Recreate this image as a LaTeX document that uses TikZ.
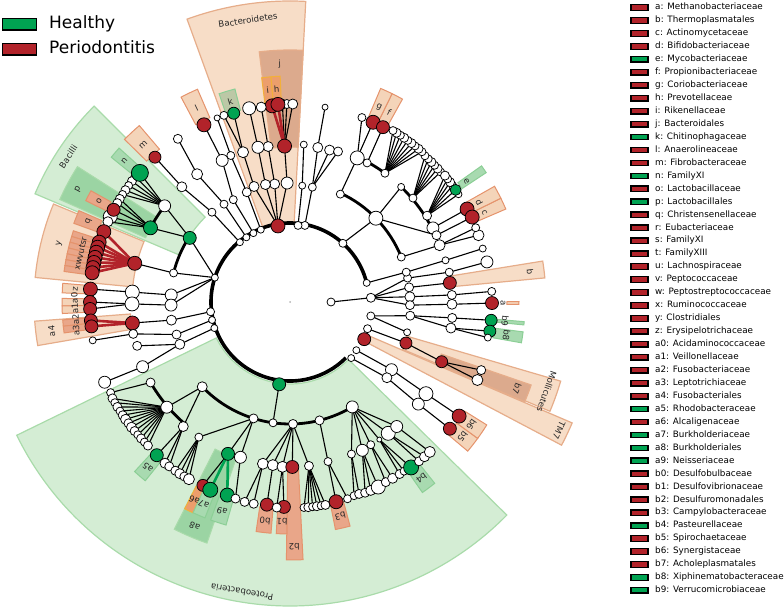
\documentclass[tikz,border=0pt]{standalone}
\usepackage{fontspec}
\setmainfont{DejaVu Sans}
\pgfdeclarelayer{wedges}
\pgfdeclarelayer{edges}
\pgfsetlayers{wedges,edges,main}
\definecolor{rednode}{HTML}{B2232A}
\definecolor{greennode}{HTML}{00A352}
\definecolor{rwF}{HTML}{F7DDC7}
\definecolor{rwD}{HTML}{E6AD8A}
\definecolor{roF}{HTML}{DCAA8D}
\definecolor{rfF}{HTML}{E9A689}
\definecolor{rfD}{HTML}{E5936C}
\definecolor{rlF}{HTML}{F4D4B9}
\definecolor{rhF}{HTML}{EC9E6C}
\definecolor{rhD}{HTML}{F2B03A}
\definecolor{gwF}{HTML}{D4EDD4}
\definecolor{gwD}{HTML}{A9DBAA}
\definecolor{goF}{HTML}{9BD4A3}
\definecolor{gfF}{HTML}{A8DAB0}
\definecolor{gfD}{HTML}{8CCF96}
\definecolor{gkF}{HTML}{BCC8A6}
\tikzset{
 wn/.style={circle,draw=black,line width=0.75pt,fill=white,inner sep=0pt,outer sep=0pt},
 rn/.style={wn,fill=rednode},
 gn/.style={wn,fill=greennode},
 edge/.style={line width=1.1pt,black},
 redg/.style={line width=2.6pt,rednode},
 gedg/.style={line width=2.6pt,greennode},
 tarc/.style={line width=2.8pt,black},
 marc/.style={line width=3.6pt,black},
 rw/.style={fill=rwF,draw=rwD,line width=1.2pt},
 ro/.style={fill=roF,draw=rwD,line width=1.2pt},
 rf/.style={fill=rfF,draw=rfD,line width=1pt},
 rl/.style={fill=rlF,draw=rfD,line width=1pt},
 rh/.style={fill=rhF,draw=rhD,line width=1pt},
 gw/.style={fill=gwF,draw=gwD,line width=1.2pt},
 go/.style={fill=goF,draw=gwD,line width=1pt},
 gf/.style={fill=gfF,draw=gfD,line width=1pt},
 gk/.style={fill=gkF,draw=gfD,line width=1pt},
 lab/.style={inner sep=0pt,font=\fontsize{8.6}{9}\selectfont,text=black!85},
 legbox/.style={draw=black,line width=1.3pt,minimum width=17pt,minimum height=5.5pt,inner sep=0pt},
 legtxt/.style={anchor=west,inner sep=0pt,font=\fontsize{8.8}{10}\selectfont,text height=6.4pt,text depth=1.8pt},
 bigbox/.style={draw=black,line width=1.3pt,minimum width=34pt,minimum height=11.5pt,inner sep=0pt},
 bigtxt/.style={anchor=west,inner sep=0pt,font=\fontsize{17}{20}\selectfont,text height=12.5pt,text depth=3.5pt},
}
\newcommand\cnode[5][wn]{\node[#1,minimum size=#5pt] (#2) at (#3:#4) {};}
\newcommand\cedge[3][edge]{\begin{pgfonlayer}{edges}\draw[#1] (#2.center) -- (#3.center);\end{pgfonlayer}}
\newcommand\carc[4][tarc]{\begin{pgfonlayer}{edges}\draw[#1] (#2:#4) arc[start angle=#2,end angle=#3,radius=#4];\end{pgfonlayer}}
\newcommand\cwedge[5]{\path[#1] (#2:#4) arc[start angle=#2,end angle=#3,radius=#4] -- (#3:#5) arc[start angle=#3,end angle=#2,radius=#5] -- cycle;}
\newcommand\clab[5][]{\node[lab,rotate={#3-90},#1] (#2) at (#3:#4) {#5};}
\newcommand\cfan[4]{\foreach \fang/\fsz [count=\fcnt] in {#4} {\cnode{#2\fcnt}{\fang}{#3}{\fsz}\cedge{#1}{#2\fcnt}}}
\begin{document}
\begin{tikzpicture}[x=1pt,y=-1pt]
\useasboundingbox (0,0) rectangle (784,612);
% ---------- left legend
\node[bigbox,fill=greennode] (hbox) at (19.2,24.2) {};
\node[bigtxt] (htxt) at (49,24.2) {Healthy};
\node[bigbox,fill=rednode] (pbox) at (19.2,49.2) {};
\node[bigtxt] (ptxt) at (49,49.2) {Periodontitis};
% ---------- right legend
\foreach \lt/\lc [count=\i from 0] in {a: Methanobacteriaceae/rednode,b: Thermoplasmatales/rednode,c: Actinomycetaceae/rednode,d: Bifidobacteriaceae/rednode,e: Mycobacteriaceae/greennode,f: Propionibacteriaceae/rednode,g: Coriobacteriaceae/rednode,h: Prevotellaceae/rednode,i: Rikenellaceae/rednode,j: Bacteroidales/rednode,k: Chitinophagaceae/greennode,l: Anaerolineaceae/rednode,m: Fibrobacteraceae/rednode,n: FamilyXI/greennode,o: Lactobacillaceae/rednode,p: Lactobacillales/greennode,q: Christensenellaceae/rednode,r: Eubacteriaceae/rednode,s: FamilyXI/rednode,t: FamilyXIII/rednode,u: Lachnospiraceae/rednode,v: Peptococcaceae/rednode,w: Peptostreptococcaceae/rednode,x: Ruminococcaceae/rednode,y: Clostridiales/rednode,z: Erysipelotrichaceae/rednode,a0: Acidaminococcaceae/rednode,a1: Veillonellaceae/rednode,a2: Fusobacteriaceae/rednode,a3: Leptotrichiaceae/rednode,a4: Fusobacteriales/rednode,a5: Rhodobacteraceae/greennode,a6: Alcaligenaceae/rednode,a7: Burkholderiaceae/greennode,a8: Burkholderiales/greennode,a9: Neisseriaceae/greennode,b0: Desulfobulbaceae/rednode,b1: Desulfovibrionaceae/rednode,b2: Desulfuromonadales/rednode,b3: Campylobacteraceae/rednode,b4: Pasteurellaceae/greennode,b5: Spirochaetaceae/rednode,b6: Synergistaceae/rednode,b7: Acholeplasmatales/rednode,b8: Xiphinematobacteraceae/greennode,b9: Verrucomicrobiaceae/greennode}
{\node[legbox,fill=\lc] (lgb\i) at (639.5,{7.6+12.95*\i}) {};
 \node[legtxt] (lgt\i) at (655,{7.6+12.95*\i}) {\lt};}
% ---------- cladogram
\begin{scope}[shift={(290,302)},y=1pt]
\begin{pgfonlayer}{wedges}
\cwedge{rw}{87}{110}{80}{301}
\cwedge{rw}{157.5}{174.5}{158}{256}
\cwedge{rw}{184.3}{189.8}{160}{256}
\cwedge{rw}{5.4}{9.2}{165}{256}
\cwedge{rw}{-27.8}{-23.2}{85}{307}
\cwedge{rw}{-22.8}{-16.3}{122}{282}
\cwedge{gw}{206}{315.5}{82}{304}
\cwedge{gw}{135}{157}{120}{277}
\cwedge{ro}{87}{97}{155}{252}
\cwedge{ro}{-23}{-19}{160}{255}
\cwedge{go}{147.5}{156}{158}{252}
\cwedge{go}{243}{251}{165}{255}
\cwedge{rf}{269.2}{272.9}{168}{258}
\cwedge{rh}{94.8}{97.2}{201}{226}
\cwedge{rh}{92.5}{94.8}{201}{226}
\cwedge{gk}{104.5}{108.8}{198}{220}
\cwedge{rl}{113.5}{118}{201}{232}
\cwedge{rl}{130.5}{135.5}{201}{232}
\cwedge{gf}{138}{141}{205}{230}
\cwedge{rf}{150.8}{153.6}{205}{228}
\cwedge{rf}{156.6}{160}{205}{230}
\foreach \sa in {161.8,163.3,164.8,166.3,167.8,169.3,170.8}{\cwedge{rf}{\sa}{\sa+1.5}{203}{228}}
\cwedge{rl}{175.3}{177.7}{203}{228}
\cwedge{rl}{179.1}{181}{203}{228}
\cwedge{rl}{181}{182.9}{203}{228}
\cwedge{rf}{184.5}{186.1}{203}{228}
\cwedge{rf}{186.1}{187.8}{203}{228}
\cwedge{gf}{227.5}{231}{207}{230}
\cwedge{rh}{243}{245.3}{207}{232}
\cwedge{gf}{245.3}{248.5}{207}{232}
\cwedge{gf}{250}{254}{207}{232}
\cwedge{rf}{261.6}{265.3}{207}{232}
\cwedge{rf}{266.6}{269.2}{207}{232}
\cwedge{rf}{281.3}{285}{207}{232}
\cwedge{gf}{304.8}{308.6}{207}{232}
\cwedge{rl}{-40}{-36}{206}{232}
\cwedge{rl}{-36}{-32}{206}{232}
\cwedge{rl}{-0.6}{0.1}{217}{229}
\cwedge{gf}{-5.6}{-4.8}{206}{235}
\cwedge{gf}{-10}{-7.3}{206}{235}
\cwedge{rl}{23.3}{26.2}{203}{235}
\cwedge{rl}{26.2}{29.5}{203}{235}
\cwedge{gf}{33.4}{35.4}{206}{235}
\cwedge{rl}{61}{63.9}{202}{232}
\cwedge{rl}{63.9}{67}{202}{232}
\end{pgfonlayer}
% ---- labels
\clab{lBact}{98.5}{285}{Bacteroidetes}
\clab{lBaci}{146.8}{265}{Bacilli}
\clab{lProt}{260.6}{294}{Proteobacteria}
\clab{lMoll}{-19.3}{272}{Mollicutes}
\clab{lTM}{-25.5}{298}{TM7}
\clab{lj}{92.5}{238}{j}
\clab{li}{96}{213}{i}
\clab{lh}{93.6}{213}{h}
\clab{lk}{106.6}{209}{k}
\clab{ll}{115.8}{215}{l}
\clab{lm}{133}{215}{m}
\clab{ln}{139.5}{218}{n}
\clab{lo}{152.2}{216}{o}
\clab{lp}{152}{240}{p}
\clab{lq}{158.3}{217}{q}
\clab{ly}{165.8}{238}{y}
\clab{lxr}{167}{215}{xwvutsr}
\clab{lz}{176.5}{215}{z}
\clab{la0}{183.2}{215}{a3a2a1a0}
\clab{la4}{187}{240}{a4}
\clab{la5}{229.3}{218}{a5}
\clab{la6}{244.2}{220}{a6}
\clab{la7}{246.9}{220}{a7}
\clab{la8}{247}{244}{a8}
\clab{la9}{252}{220}{a9}
\clab{lb0}{263.5}{220}{b0}
\clab{lb1}{267.9}{220}{b1}
\clab{lb2}{271}{245}{b2}
\clab{lb3}{283.2}{220}{b3}
\clab{lb4}{306.7}{220}{b4}
\clab{lb5}{-38}{219}{b5}
\clab{lb6}{-34}{219}{b6}
\clab{lb7}{-21}{243}{b7}
\clab{lb8}{-8.7}{219}{b8}
\clab{lb9}{-5.1}{216}{b9}
\clab{la}{-0.2}{213}{a}
\clab{lbb}{7.2}{242}{b}
\clab{lc}{24.7}{214}{c}
\clab{ld}{27.8}{214}{d}
\clab{le}{34.4}{214}{e}
\clab{lf}{62.4}{214}{f}
\clab{lg}{65.4}{214}{g}
% ---- thick arcs
\carc[marc]{14}{315}{79}
\carc{22}{65}{120}
\carc{27.4}{46}{160}
\carc{53.6}{65}{160}
\carc{147.4}{166}{120}
\carc{142.5}{152}{158}
\carc{222}{301}{122}
\carc{210}{229.4}{161}
% ---- root
\node[circle,fill=black!30,minimum size=2pt,inner sep=0pt] (root) at (0:0) {};
% ---- Archaea
\cnode{kA}{0}{41}{8}
\cnode{pA}{3}{81}{9} \cedge{kA}{pA}
\cnode{cA1}{11.5}{120}{8} \cnode{cA2}{7}{120}{9} \cnode{cA3}{2.5}{120}{10} \cnode{cA4}{-1.5}{120}{9}
\cedge{pA}{cA1}\cedge{pA}{cA2}\cedge{pA}{cA3}\cedge{pA}{cA4}
\cnode{oA1}{10.6}{162}{8} \cedge{cA1}{oA1} \cnode{fA1}{11.5}{201}{12} \cedge{oA1}{fA1}
\cnode[rn]{ob}{6.8}{161}{13} \cedge{cA2}{ob}
\cnode{oA3}{2.5}{162}{9} \cedge{cA3}{oA3} \cnode{fA3}{3}{202}{8} \cedge{oA3}{fA3}
\cnode{oA4}{-0.8}{162}{10} \cedge{cA4}{oA4} \cnode[rn]{fa}{-0.3}{202}{13} \cedge{oA4}{fa}
\cnode{p14}{14}{79}{7} \cnode{c14}{14.4}{120}{8} \cnode{o14}{15}{161}{7} \cnode{f14}{15.5}{200}{7}
\cedge{p14}{c14}\cedge{c14}{o14}\cedge{o14}{f14}
\cnode{pV}{-9.8}{82}{8} \cnode{cV}{-6.5}{121}{9} \cnode{cV2}{-14.5}{121}{7}
\cnode{oV1}{-5.6}{163}{9} \cnode{oV2}{-9.2}{163}{10}
\cnode[gn]{fb9}{-5.2}{202}{12} \cnode[gn]{fb8}{-8.3}{202}{12} \cnode{fV3}{-10.2}{201}{7}
\cedge{pV}{cV}\cedge{pV}{cV2}\cedge{cV}{oV1}\cedge{cV}{oV2}\cedge{oV1}{fb9}\cedge{oV2}{fb8}\cedge{oV2}{fV3}
\cnode{pT}{-19}{82}{8} \cnode[rn]{cMol}{-19.5}{123}{12} \cnode[rn]{ob7}{-21.5}{163}{12}
\cnode{fT1}{-19.6}{203}{9} \cnode{fT2}{-22.6}{203}{11}
\cedge{pT}{cMol}\cedge{cMol}{ob7}\cedge{ob7}{fT1}\cedge{ob7}{fT2}
\cnode[rn]{pTM}{-26.6}{83}{13}
\cnode{pSy}{-36}{82}{7} \cnode{cSy}{-33.7}{122}{12} \cnode{oSy}{-34}{164}{14} \cnode[rn]{fb6}{-34}{204}{14}
\cedge{pSy}{cSy}\cedge{cSy}{oSy}\cedge{oSy}{fb6}
\cnode{pSp}{-42.5}{83}{7} \cnode{cSp}{-38}{123}{10} \cnode{oSp}{-38.5}{164}{12} \cnode[rn]{fb5}{-38.4}{204}{13}
\cedge{pSp}{cSp}\cedge{cSp}{oSp}\cedge{oSp}{fb5}
% Actinobacteria
\cnode{pAct}{48}{79}{8}
\cnode{cAct}{44.3}{120}{14} \cnode{cCor}{65}{119}{8} \cnode{cAc3}{22}{120}{8}
\cedge{pAct}{cAct}
\cnode{oAc1}{46}{160}{7} \cnode{oAc2}{40.2}{161}{8} \cnode{oAc3}{32.2}{162}{9} \cnode{oAc4}{27.4}{161}{12} \cnode{oAc5}{24.5}{161}{9}
\cedge{cAct}{oAc1}\cedge{cAct}{oAc5}
\cfan{oAc2}{lA}{199}{40.8/8,42.1/9,43.4/8,44.7/9,46/8,47.3/8}
\cfan{oAc3}{lB}{200}{32.6/7,35.6/8,36.8/9,38/8,39.2/9}
\cnode[gn]{fe}{34.1}{200}{11} \cedge{oAc3}{fe}
\cnode[rn]{fd}{27.7}{200}{14} \cedge{oAc4}{fd}
\cnode[rn]{fc}{25}{201}{14} \cedge{oAc5}{fc}
\cnode{oAc6}{20.8}{160}{11} \cedge{cAc3}{oAc6}
\cfan{oAc6}{lC}{200}{19.5/11,21.8/8}
\cnode{oC1}{65}{159}{14} \cnode{oC2}{61}{159}{8} \cnode{oC3}{53.6}{160}{8}
\cedge{cCor}{oC1}
\cnode[rn]{fg}{65.2}{198}{14} \cedge{oC1}{fg} \cnode{fC1}{68.7}{198}{8} \cedge{oC1}{fC1}
\cnode[rn]{ff}{62}{198}{13} \cedge{oC2}{ff}
\cfan{oC3}{lD}{200}{48.7/8,50/9,51.3/8,52.6/9,53.9/8,55.2/9,56.5/8,57.8/9,59/8}
\cnode{p79}{79}{78}{8} \cnode{c79}{79}{117}{8} \cnode{o79}{79.8}{157}{10} \cnode{f79}{79.8}{198}{6}
\cnode{o75}{75.4}{157}{10} \cnode{o72}{72.3}{158}{9}
\cedge{p79}{c79}\cedge{c79}{o79}\cedge{c79}{o75}\cedge{c79}{o72}\cedge{o79}{f79}
\cnode{p84}{84}{77}{8} \cnode{c84}{84}{117}{7} \cnode{o84}{85}{158}{7}
\cedge{p84}{c84}\cedge{c84}{o84}
% Bacteroidetes
\cnode[rn]{pBac}{99}{77}{14}
\cnode{cB1}{91.4}{119}{12} \cnode{cB2}{97.4}{119}{10} \cnode{cB3}{101.8}{120}{10} \cnode{cB4}{107.3}{121}{10}
\cedge{pBac}{cB1}\cedge{pBac}{cB2}\cedge{pBac}{cB3}\cedge{pBac}{cB4}
\cnode[rn]{oj}{92}{156}{14} \cedge{cB1}{oj}
\cnode{fj3}{92.2}{198}{10} \cnode{fj4}{90.9}{198}{9} \cnode{fj5}{89.2}{198}{10}
\cedge{oj}{fj3}\cedge{oj}{fj4}\cedge{oj}{fj5}
\cnode[rn]{fi}{95.2}{197}{14} \cnode[rn]{fh}{93.5}{198}{14}
\cedge[redg]{oj}{fi}\cedge[redg]{oj}{fh}
\cnode{oB2}{98}{157}{10} \cedge{cB2}{oB2} \cnode{fB2}{98.4}{197}{10} \cedge{oB2}{fB2}
\cnode{oB3}{101.7}{158}{12} \cedge{cB3}{oB3} \cnode{fB3}{101.9}{198}{13} \cedge{oB3}{fB3}
\cnode{oB4}{107.4}{157}{11} \cedge{cB4}{oB4}
\cnode[gn]{fk}{106.6}{197}{12} \cedge{oB4}{fk} \cnode{fB4}{109.5}{198}{8} \cedge{oB4}{fB4}
\cnode{p112}{112}{78}{7} \cnode{c112}{111.5}{118}{9} \cnode{o112}{112}{158}{8} \cnode{f112}{111.6}{198}{6}
\cedge{p112}{c112}\cedge{c112}{o112}\cedge{o112}{f112}
\cnode{pl}{118}{78}{7} \cnode{cl}{119}{117}{8} \cnode{ol}{115.6}{157}{12} \cnode[rn]{fl}{115.9}{197}{14}
\cedge{pl}{cl}\cedge{cl}{ol}\cedge{ol}{fl}
\cnode{p124}{124}{78}{7} \cnode{c124}{124}{118}{8} \cnode{o124}{126}{158}{11} \cnode{f124}{124.5}{198}{9}
\cedge{p124}{c124}\cedge{c124}{o124}\cedge{o124}{f124}
\cnode{pm}{130}{78}{7} \cnode{cm}{131}{119}{8} \cnode{om}{133.2}{158}{10} \cnode[rn]{fm}{133}{198}{12}
\cedge{pm}{cm}\cedge{cm}{om}\cedge{om}{fm}
% Firmicutes
\cnode{pF}{162}{79}{7}
\cnode[gn]{cBac}{147.4}{119}{13} \cnode{cClo}{166}{120}{8} \cnode{cEry}{176.6}{119}{12} \cnode{cNeg}{181.5}{119}{12}
\cedge{pF}{cBac}\cedge{pF}{cClo}\cedge{pF}{cEry}\cedge{pF}{cNeg}
\cnode{oBacl}{142.5}{158}{12} \cnode[gn]{op}{152}{158}{14}
\cedge{cBac}{oBacl}\cedge{cBac}{op}
\cfan{oBacl}{lP}{199}{141/9,142.6/9,144.2/8,145.8/9,147.3/8}
\cnode[gn]{fn}{139.3}{198}{17} \cedge{oBacl}{fn}
\cfan{op}{lQ}{199}{148.8/9,150.2/9,154.6/14,156.2/10}
\cnode[rn]{fo}{152.4}{199}{13} \cedge{op}{fo}
\cnode[rn]{oy}{166}{160}{14} \cedge{cClo}{oy}
\cnode[rn]{fq}{159.3}{199}{14} \cedge[redg]{oy}{fq}
\foreach \rang/\rnm in {162.6/fr,164.1/fs,165.6/ft,167.1/fu,168.6/fv,170.1/fw,171.6/fx}
 {\cnode[rn]{\rnm}{\rang}{200}{14}\cedge[redg]{oy}{\rnm}}
\cnode{oEry}{176.4}{158}{14} \cedge{cEry}{oEry} \cnode[rn]{fz}{176.3}{200}{14} \cedge{oEry}{fz}
\cnode{oNeg}{180.7}{158}{14} \cedge{cNeg}{oNeg}
\cnode[rn]{fa0}{180}{200}{13} \cnode[rn]{fa1}{182}{200}{13} \cedge{oNeg}{fa0}\cedge{oNeg}{fa1}
\cnode{pFu}{187}{80}{8} \cnode{cFu}{188.7}{120}{10} \cnode[rn]{oa4}{187.6}{159}{14}
\cedge{pFu}{cFu}\cedge{cFu}{oa4}
\cnode[rn]{fa2}{185.3}{200}{13} \cnode[rn]{fa3}{187}{200}{13}
\cedge[redg]{oa4}{fa2}\cedge[redg]{oa4}{fa3}
\cnode{p193}{193}{80}{7} \cnode{c193}{196}{118}{9} \cnode{o193}{191.5}{160}{9} \cnode{f193}{191}{201}{7}
\cedge{p193}{c193}\cedge{c193}{o193}\cedge{o193}{f193}
\cnode{p199}{199}{80}{7} \cnode{c199}{201}{118}{10} \cnode{o199}{196}{159}{9} \cnode{o203}{203.7}{161}{12} \cnode{f203}{203.4}{202}{12}
\cedge{p199}{c199}\cedge{c199}{o199}\cedge{c199}{o203}\cedge{o203}{f203}
% Proteobacteria
\cnode[gn]{pPro}{262.5}{83}{13}
\cnode{cPro}{262}{122}{8} \cedge{pPro}{cPro}
\cnode{cAl}{224}{122}{10} \cnode{cBe}{252.6}{122}{9} \cnode{cDe}{271.4}{122}{9} \cnode{cEp}{284}{122}{9} \cnode{cGa}{300.7}{122}{12}
\cnode{oAl1}{210}{161}{9} \cnode{oAl2}{220.5}{162}{12} \cnode{oAl3}{229.4}{164}{10}
\cedge{cAl}{oAl3}\cedge{cAl}{oAl2}
\cnode{fAl1}{206.8}{201}{8} \cedge{oAl1}{fAl1}
\cfan{oAl2}{lE}{202}{208.5/9,209.9/8,211.3/9,212.7/8,214.1/9,215.5/10,216.9/9,218.3/10,219.7/9,221.1/8,222.5/9,223.9/8,225.3/9}
\cnode[gn]{fa5}{229}{203}{13} \cedge{oAl3}{fa5}
\cfan{oAl3}{lF}{204}{232.2/10,233.7/9}
\cnode{oBe1}{236}{163}{8} \cedge{cBe}{oBe1}
\cfan{oBe1}{lG}{204}{235.8/9,237.3/10,238.8/9,240.3/11}
\cnode[gn]{oa8}{247.8}{164}{13} \cedge{cBe}{oa8}
\cnode[rn]{fa6}{244.6}{203}{12} \cnode[gn]{fa7}{247}{204}{15} \cnode[gn]{fa9}{252}{203}{14}
\cedge{oa8}{fa6}\cedge[gedg]{oa8}{fa7}\cedge[gedg]{oa8}{fa9}
\cnode{oBe3}{252.3}{163}{12} \cedge{cBe}{oBe3} \cnode{fBe3}{254.5}{204}{9} \cedge{oBe3}{fBe3}
\cnode{oDe1}{260.5}{164}{11} \cfan{oDe1}{lH}{205}{257.2/9,259.8/9}
\cnode{oDe2}{264}{164}{11} \cnode[rn]{fb0}{263.5}{204}{13} \cedge{oDe2}{fb0}
\cnode{oDe3}{267.4}{165}{11} \cnode[rn]{fb1}{268.3}{205}{13} \cnode{fDe3}{266.3}{206}{9}
\cedge{oDe3}{fb1}\cedge{oDe3}{fDe3}
\cnode[rn]{ob2}{270.8}{165}{13}
\cnode{oDe5}{276.6}{165}{9} \cfan{oDe5}{lI}{206}{273.9/8,275.1/9,276.3/8,277.5/9,278.7/8,279.9/9}
\cedge{cDe}{oDe1}\cedge{cDe}{oDe2}\cedge{cDe}{oDe3}\cedge{cDe}{ob2}\cedge{cDe}{oDe5}
\cnode{oEp}{283.4}{164}{8} \cnode[rn]{fb3}{283}{205}{14} \cnode{fEp}{286.3}{205}{8}
\cedge{cEp}{oEp}\cedge{oEp}{fb3}\cedge{oEp}{fEp}
\cnode{oGa1}{292}{164}{8} \cfan{oGa1}{lJ}{204}{288.3/8,289.8/9}
\cnode{oGa2}{296}{165}{12} \cfan{oGa2}{lK}{205}{291.5/9,293.2/10,295.5/14}
\cnode{oGa3}{299.5}{164}{8} \cfan{oGa3}{lL}{204}{298/9,300.2/10}
\cnode{oGa4}{303}{164}{5} \cfan{oGa4}{lM}{204}{302.5/9,304/8}
\cnode[gn]{fb4}{306.2}{205}{15} \cedge{oGa4}{fb4}
\cnode{oGa5}{306.8}{164}{14} \cfan{oGa5}{lN}{205}{309/9,311/10}
\cnode{oGa6}{310.6}{164}{12} \cfan{oGa6}{lO}{205}{313/11}
\cedge{cGa}{oGa1}\cedge{cGa}{oGa2}\cedge{cGa}{oGa3}\cedge{cGa}{oGa4}\cedge{cGa}{oGa5}\cedge{cGa}{oGa6}
\end{scope}
\end{tikzpicture}
\end{document}
